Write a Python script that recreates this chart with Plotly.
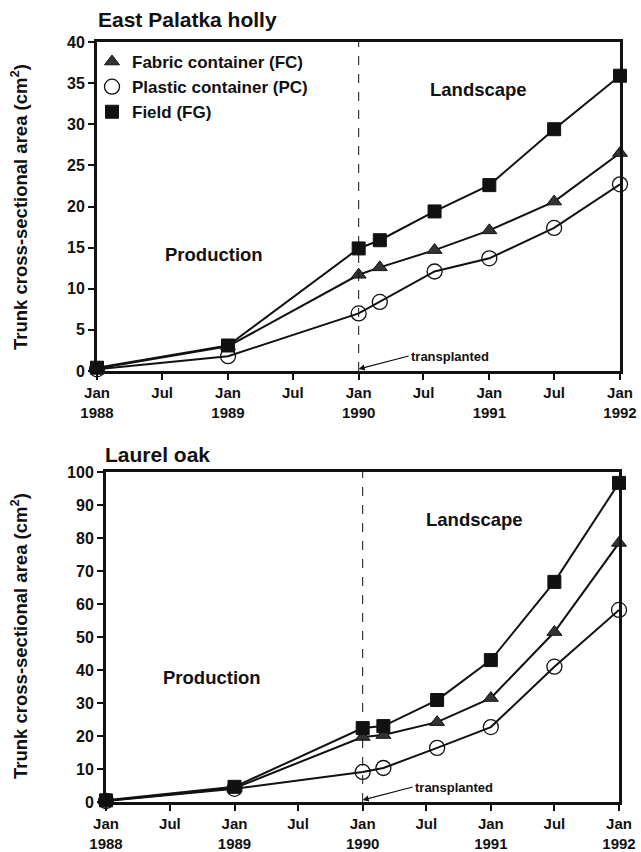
import plotly.graph_objects as go

dates = ["1988-01-01", "1989-01-01", "1990-01-01", "1990-03-01",
         "1990-08-01", "1991-01-01", "1991-07-01", "1992-01-01"]

holly_fc = [0.3, 3.0, 11.7, 12.6, 14.7, 17.1, 20.6, 26.5]
holly_pc = [0.2, 1.8, 7.0, 8.4, 12.1, 13.7, 17.4, 22.7]
holly_fg = [0.4, 3.1, 14.9, 15.9, 19.4, 22.6, 29.4, 35.9]

oak_fc = [0.4, 4.2, 19.7, 20.3, 24.2, 31.5, 51.5, 78.5]
oak_pc = [0.3, 4.0, 9.1, 10.3, 16.4, 22.7, 41.0, 58.2]
oak_fg = [0.5, 4.6, 22.4, 23.0, 30.9, 43.0, 66.7, 96.7]

series_names = ["Fabric container (FC)", "Plastic container (PC)", "Field (FG)"]
tick_vals = ["1988-01-01", "1988-07-01", "1989-01-01", "1989-07-01", "1990-01-01",
             "1990-07-01", "1991-01-01", "1991-07-01", "1992-01-01"]
tick_text = ["Jan<br>1988", "Jul", "Jan<br>1989", "Jul", "Jan<br>1990",
             "Jul", "Jan<br>1991", "Jul", "Jan<br>1992"]
holly_yticks = [0, 5, 10, 15, 20, 25, 30, 35, 40]
oak_yticks = [0, 10, 20, 30, 40, 50, 60, 70, 80, 90, 100]
transplant_date = "1990-01-01"

INK = "#111111"
FONT = "Liberation Sans, Arial, sans-serif"

styles = [
    dict(symbol="triangle-up", size=13, color="#333333", line=dict(color=INK, width=1)),
    dict(symbol="circle-open", size=15, color=INK, line=dict(color=INK, width=1.3)),
    dict(symbol="square", size=13, color=INK, line=dict(color=INK, width=1)),
]

fig = go.Figure()

def add_panel(xa, ya, vals):
    for v, st in zip(vals, styles):
        fig.add_trace(go.Scatter(
            x=dates, y=v, mode="lines+markers", xaxis=xa, yaxis=ya,
            line=dict(color=INK, width=2), marker=st, showlegend=False,
            cliponaxis=False))

add_panel("x", "y", [holly_fc, holly_pc, holly_fg])
add_panel("x2", "y2", [oak_fc, oak_pc, oak_fg])

for name, st in zip(series_names, styles):
    fig.add_trace(go.Scatter(x=[None], y=[None], mode="markers", name="<b>" + name + "</b>",
                             marker=st, xaxis="x", yaxis="y"))

axis_common = dict(showline=True, linewidth=3, linecolor=INK, mirror=True,
                   ticks="outside", ticklen=6, tickwidth=2, tickcolor=INK,
                   showgrid=False, zeroline=False, automargin=False)
xfont = dict(family=FONT, size=15, color=INK)
yfont = dict(family=FONT, size=16, color=INK)

bold = lambda lst: ["<b>%s</b>" % t for t in lst]

fig.update_layout(
    width=641, height=852,
    margin=dict(l=0, r=0, t=0, b=0, pad=0, autoexpand=False),
    paper_bgcolor="white", plot_bgcolor="white",
    font=dict(family=FONT, color=INK),
    xaxis=dict(domain=[97/641, 620/641], anchor="y", type="date",
               range=["1988-01-01", "1992-01-01"], tickfont=xfont,
               tickvals=tick_vals, ticktext=bold(tick_text), **axis_common),
    yaxis=dict(domain=[(852-371)/852, (852-42)/852], anchor="x",
               range=[0, 40], tickvals=holly_yticks, tickfont=yfont,
               ticktext=bold([str(v) for v in holly_yticks]), **axis_common),
    xaxis2=dict(domain=[106/641, 619/641], anchor="y2", type="date",
                range=["1988-01-01", "1992-01-01"], tickfont=xfont,
                tickvals=tick_vals, ticktext=bold(tick_text), **axis_common),
    yaxis2=dict(domain=[(852-802)/852, (852-472)/852], anchor="x2",
                range=[0, 100], tickvals=oak_yticks, tickfont=yfont,
                ticktext=bold([str(v) for v in oak_yticks]), **axis_common),
    legend=dict(x=92/641, y=1-44/852, xanchor="left", yanchor="top",
                bgcolor="rgba(0,0,0,0)", itemwidth=30,
                font=dict(family=FONT, size=17, color=INK)),
)

for xr, yr in [("x", "y domain"), ("x2", "y2 domain")]:
    fig.add_shape(type="line", xref=xr, yref=yr, x0=transplant_date, x1=transplant_date,
                  y0=0, y1=1, line=dict(color=INK, width=1, dash="dash"))

ann = []
title_font = dict(family=FONT, size=21, color=INK)
ann.append(dict(text="<b>East Palatka holly</b>", xref="paper", yref="paper",
                x=96/641, y=1-19/852, xanchor="left", yanchor="middle",
                showarrow=False, font=title_font))
ann.append(dict(text="<b>Laurel oak</b>", xref="paper", yref="paper",
                x=103/641, y=1-454/852, xanchor="left", yanchor="middle",
                showarrow=False, font=title_font))
for yc in [207, 636]:
    ann.append(dict(text="<b>Trunk cross-sectional area (cm<sup>2</sup>)</b>",
                    xref="paper", yref="paper", x=19/641, y=1-yc/852,
                    textangle=-90, showarrow=False, xanchor="center", yanchor="middle",
                    font=dict(family=FONT, size=18.5, color=INK)))
lab_font = dict(family=FONT, size=18.5, color=INK)
for txt, xc, yc in [("Production", 214, 255), ("Landscape", 478, 90),
                    ("Production", 212, 677), ("Landscape", 474, 519)]:
    ann.append(dict(text="<b>%s</b>" % txt, xref="paper", yref="paper",
                    x=xc/641, y=1-yc/852, xanchor="center", yanchor="middle",
                    showarrow=False, font=lab_font))
for xr, yr in [("x", "y domain"), ("x2", "y2 domain")]:
    ann.append(dict(text="<b>transplanted</b>", xref=xr, yref=yr, x=transplant_date, y=0.006,
                    ax=50, ay=-13, xanchor="left", showarrow=True, arrowhead=2,
                    arrowsize=1, arrowwidth=1.2, arrowcolor=INK, standoff=0,
                    font=dict(family=FONT, size=13, color=INK)))
fig.update_layout(annotations=ann)

fig.write_html("out.html")
